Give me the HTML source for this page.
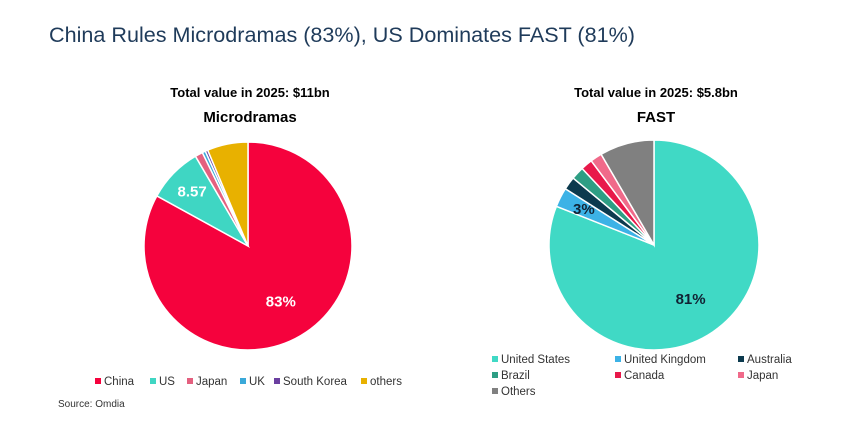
<!DOCTYPE html>
<html><head><meta charset="utf-8">
<style>
body{margin:0;background:#fff;}
svg{display:block;font-family:"Liberation Sans",Arial,sans-serif;}
</style></head>
<body>
<svg id="chart" width="864" height="445" viewBox="0 0 864 445">
<rect width="864" height="445" fill="#fff"/>
<text x="49" y="42" font-size="21.5" fill="#1f3b5a" textLength="586" lengthAdjust="spacingAndGlyphs">China Rules Microdramas (83%), US Dominates FAST (81%)</text>
<text x="250" y="97" font-size="13" font-weight="bold" text-anchor="middle" fill="#000">Total value in 2025: $11bn</text>
<text x="250" y="122" font-size="15" font-weight="bold" text-anchor="middle" fill="#000">Microdramas</text>
<text x="656" y="97" font-size="13" font-weight="bold" text-anchor="middle" fill="#000">Total value in 2025: $5.8bn</text>
<text x="656" y="122" font-size="15" font-weight="bold" text-anchor="middle" fill="#000">FAST</text>
<g id="left-pie"></g>
<g id="right-pie"></g>
<g id="left-legend"></g>
<g id="right-legend"></g>
<text x="58" y="407" font-size="10" fill="#333">Source: Omdia</text>
</svg>
<script>
const leftCats = ["China","US","Japan","UK","South Korea","others"];
const leftVals = [83, 8.57, 1.2, 0.5, 0.4, 6.33];
const leftLabels = ["83%","8.57","","","",""];
const leftColors = ["#f5023d","#3fd6c3","#e4607f","#3aa9d9","#6b3fa0","#e8b100"];

const rightCats = ["United States","United Kingdom","Australia","Brazil","Canada","Japan","Others"];
const rightVals = [81, 3, 2, 2, 1.8, 1.8, 8.4];
const rightLabels = ["81%","3%","","","","",""];
const rightColors = ["#40d9c5","#3cb2e6","#0c3a4e","#2e9e84","#e8184a","#f06a8a","#808080"];

const NS="http://www.w3.org/2000/svg";
function pie(gid,cats,vals,labels,colors,cx,cy,r,labelColors){
  const g=document.getElementById(gid);
  const tot=vals.reduce((a,b)=>a+b,0);
  let a0=0;
  vals.forEach((v,i)=>{
    const a1=a0+v/tot*2*Math.PI;
    const x0=cx+r*Math.sin(a0),y0=cy-r*Math.cos(a0);
    const x1=cx+r*Math.sin(a1),y1=cy-r*Math.cos(a1);
    const p=document.createElementNS(NS,"path");
    p.setAttribute("d",`M${cx},${cy}L${x0},${y0}A${r},${r} 0 ${a1-a0>Math.PI?1:0} 1 ${x1},${y1}Z`);
    p.setAttribute("fill",colors[i]);
    p.setAttribute("stroke","#fff");
    p.setAttribute("stroke-width","1.5");
    
    
    g.appendChild(p);
    if(labels[i]){
      const am=(a0+a1)/2, lr=v/tot>0.5?r*0.62:r*0.75;
      const t=document.createElementNS(NS,"text");
      t.setAttribute("x",cx+lr*Math.sin(am));
      t.setAttribute("y",cy-lr*Math.cos(am)+5);
      t.setAttribute("text-anchor","middle");
      t.setAttribute("font-size","15");
      t.setAttribute("font-weight","bold");
      t.setAttribute("fill",labelColors[i]);
      t.textContent=labels[i];
      
      
      g.appendChild(t);
    }
    a0=a1;
  });
}
pie("left-pie",leftCats,leftVals,leftLabels,leftColors,248,246,104,["#fff","#fff"]);
pie("right-pie",rightCats,rightVals,rightLabels,rightColors,654,245,105,["#123","#123"]);

function legend(gid,cats,colors,xs,ys){
  const g=document.getElementById(gid);
  cats.forEach((c,i)=>{
    const r=document.createElementNS(NS,"rect");
    r.setAttribute("x",xs[i]-3);r.setAttribute("y",ys[i]-7);
    r.setAttribute("width",6);r.setAttribute("height",6);
    r.setAttribute("fill",colors[i]);
    
    
    g.appendChild(r);
    const t=document.createElementNS(NS,"text");
    t.setAttribute("x",xs[i]+6);t.setAttribute("y",ys[i]);
    t.setAttribute("font-size","11.5");t.setAttribute("fill","#333");
    t.textContent=c;
    
    
    g.appendChild(t);
  });
}
legend("left-legend",leftCats,leftColors,[98,153,190,243,277,364],[385,385,385,385,385,385]);
legend("right-legend",rightCats,rightColors,[495,618,741,495,618,741,495],[363,363,363,379,379,379,395]);
</script>
</body></html>
